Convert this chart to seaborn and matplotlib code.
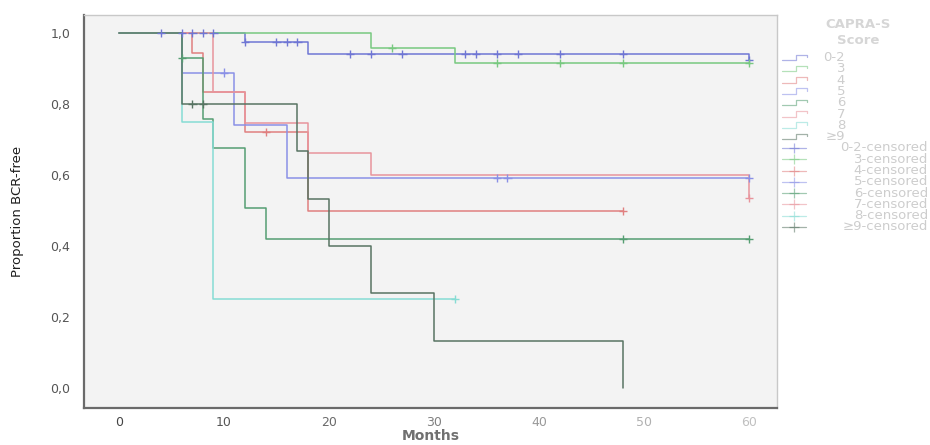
import numpy as np
import pandas as pd
import matplotlib
matplotlib.use("Agg")
import matplotlib.pyplot as plt
import seaborn as sns
from matplotlib.lines import Line2D

# ---- data (months, proportion BCR-free) ----
groups = ["0-2", "3", "4", "5", "6", "7", "8", "≥9"]

t_02 = [0, 12, 18, 60];            s_02 = [1.0, 0.975, 0.94, 0.925]
c_02 = [4, 6, 7, 8, 9, 12, 15, 16, 17, 22, 24, 27, 33, 34, 36, 38, 42, 48, 60]
t_3 = [0, 24, 32];                 s_3 = [1.0, 0.958, 0.916]
c_3 = [26, 36, 42, 48, 60]
t_4 = [0, 7, 8, 12, 18];           s_4 = [1.0, 0.944, 0.835, 0.722, 0.50]
c_4 = [14, 48]
t_5 = [0, 6, 11, 16];              s_5 = [1.0, 0.889, 0.741, 0.593]
c_5 = [10, 36, 37, 60]
t_6 = [0, 6, 8, 9, 12, 14];        s_6 = [1.0, 0.929, 0.757, 0.675, 0.506, 0.42]
c_6 = [6, 48, 60]
t_7 = [0, 9, 12, 18, 24, 60];      s_7 = [1.0, 0.835, 0.748, 0.663, 0.60, 0.536]
c_7 = [60]
t_8 = [0, 6, 9];                   s_8 = [1.0, 0.75, 0.25]
c_8 = [32]
t_9 = [0, 6, 17, 18, 20, 24, 30, 48]
s_9 = [1.0, 0.8, 0.667, 0.533, 0.4, 0.267, 0.133, 0.0]
c_9 = [7, 8]

end_times = [60, 60, 48, 60, 60, 60, 32, 48]

x_ticks = [0, 10, 20, 30, 40, 50, 60]
y_ticks = [0.0, 0.2, 0.4, 0.6, 0.8, 1.0]
y_tick_labels = ["0,0", "0,2", "0,4", "0,6", "0,8", "1,0"]

colors = ["#6f76d4", "#78c980", "#e08080", "#8a90e6", "#559e72", "#e8949c", "#86dcd4", "#587463"]

T = [t_02, t_3, t_4, t_5, t_6, t_7, t_8, t_9]
S = [s_02, s_3, s_4, s_5, s_6, s_7, s_8, s_9]
C = [c_02, c_3, c_4, c_5, c_6, c_7, c_8, c_9]

# ---- build tables ----
line_rows, cens_rows = [], []
for g, t, s, c, e in zip(groups, T, S, C, end_times):
    tt = list(t) + [e]
    ss = list(s) + [s[-1]]
    for a, b in zip(tt, ss):
        line_rows.append({"group": g, "t": a, "s": b})
    for ct in c:
        idx = np.searchsorted(t, ct, side="right") - 1
        cens_rows.append({"group": g, "t": ct, "s": s[idx]})
lines = pd.DataFrame(line_rows)
cens = pd.DataFrame(cens_rows)
palette = dict(zip(groups, colors))

# ---- figure ----
sns.set_style("white")
plt.rcParams["font.family"] = ["DejaVu Sans"]
W, H = 930, 445
fig = plt.figure(figsize=(W / 100, H / 100), dpi=100)
ax = fig.add_axes([84 / W, 1 - 408 / H, (777 - 84) / W, (408 - 15) / H])
ax.set_facecolor("#f3f3f3")

for g in groups:
    sub = lines[lines.group == g]
    sns.lineplot(data=sub, x="t", y="s", color=palette[g], drawstyle="steps-post",
                 estimator=None, sort=False, linewidth=1.1, ax=ax, legend=False)
sns.scatterplot(data=cens, x="t", y="s", hue="group", palette=palette, marker="+",
                s=34, linewidth=1.0, ax=ax, legend=False, zorder=5)

ax.set_xlim(-3.33, 62.67)
ax.set_ylim(-0.056, 1.051)
ax.set_xticks(x_ticks)
ax.set_xticklabels([str(v) for v in x_ticks], fontsize=9)
tick_cols = ["#444444", "#555555", "#6a6a6a", "#808080", "#999999", "#b0b0b0", "#c0c0c0"]
for lab, col in zip(ax.get_xticklabels(), tick_cols):
    lab.set_color(col)
ax.set_yticks(y_ticks)
ax.set_yticklabels(y_tick_labels, fontsize=9, color="#555555")
ax.tick_params(axis="y", direction="out", length=7, width=1.2, color="#666666", pad=3)
ax.tick_params(axis="x", direction="out", length=5, width=1.2, color="#666666", pad=1)

for side in ["left", "bottom"]:
    ax.spines[side].set_color("#6a6a6a")
    ax.spines[side].set_linewidth(1.6)
for side in ["top", "right"]:
    ax.spines[side].set_color("#c8c8c8")
    ax.spines[side].set_linewidth(1.0)

ax.set_xlabel("Months", fontsize=10, fontweight="bold", color="#707070")
ax.xaxis.label.set_va("center")
ax.xaxis.set_label_coords(0.5, (408 - 436) / 393)
ax.set_ylabel("Proportion BCR-free", fontsize=9.5, color="#1e1e1e", labelpad=19,
              family=["Liberation Sans Narrow", "DejaVu Sans"])

# ---- legend (SPSS style, drawn in figure pixel coordinates) ----
def fx(x):
    return x / W

def fy(y):
    return 1 - y / H

leg_col = "#cdcdcd"
fig.text(fx(858), fy(25), "CAPRA-S", ha="center", va="center", fontsize=9.5,
         fontweight="bold", color="#d6d6d6")
fig.text(fx(858), fy(40), "Score", ha="center", va="center", fontsize=9.5,
         fontweight="bold", color="#d6d6d6")
row0, dy = 57.5, 11.3
for i, (g, col) in enumerate(zip(groups, colors)):
    y = row0 + i * dy
    xs = [782, 796, 796, 807, 807]
    ys = [y + 2.5, y + 2.5, y - 3, y - 3, y - 0.5]
    fig.add_artist(Line2D([fx(v) for v in xs], [fy(v) for v in ys], transform=fig.transFigure,
                          color=col, lw=0.9, alpha=0.55))
    fig.text(fx(845), fy(y), g, ha="right", va="center", fontsize=9.5, color=leg_col)
for i, (g, col) in enumerate(zip(groups, colors)):
    y = row0 + (8 + i) * dy
    fig.add_artist(Line2D([fx(782), fx(806)], [fy(y), fy(y)], transform=fig.transFigure,
                          color=col, lw=0.9, alpha=0.55))
    fig.add_artist(Line2D([fx(794)], [fy(y)], transform=fig.transFigure, color=col,
                          marker="+", markersize=7, mew=0.9, alpha=0.55, lw=0))
    fig.text(fx(928), fy(y), f"{g}-censored", ha="right", va="center", fontsize=9.5,
             color=leg_col)

fig.savefig("out.png", dpi=100, facecolor="white")
